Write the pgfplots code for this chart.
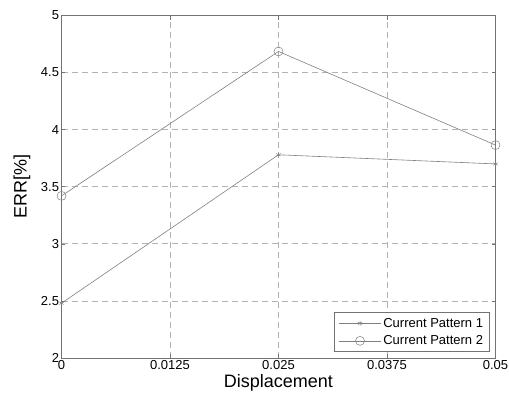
\documentclass[border=0pt]{standalone}
\usepackage{pgfplots}
\pgfplotsset{compat=1.18}
\usepackage{fontspec}
\setmainfont{Liberation Sans}
\definecolor{axgray}{gray}{0.45}
\definecolor{linegray}{gray}{0.5}
\definecolor{gridgray}{gray}{0.7}
\begin{document}
\begin{tikzpicture}
\path[use as bounding box] (0,0) rectangle (509bp,400bp);
\begin{axis}[
  at={(61.5bp,42bp)}, anchor=south west,
  scale only axis,
  width=434bp, height=342.5bp,
  xmin=0, xmax=0.05, ymin=2, ymax=5,
  xtick={0,0.0125,0.025,0.0375,0.05},
  xticklabels={0,0.0125,0.025,0.0375,0.05},
  ytick={2,2.5,3,3.5,4,4.5,5},
  yticklabels={2,2.5,3,3.5,4,4.5,5},
  scaled x ticks=false,
  /pgf/number format/assume math mode=true,
  ticklabel style={font=\fontsize{13bp}{15bp}\selectfont},
  xticklabel style={yshift=1bp},
  yticklabel style={xshift=1bp},
  tick align=inside,
  major tick length=4bp,
  tick style={axgray, line width=0.6bp},
  axis line style={axgray, line width=0.8bp},
  grid=major,
  major grid style={gridgray, dash pattern=on 6bp off 4bp, line width=0.7bp},
  xlabel={Displacement},
  ylabel={ERR[\%]},
  label style={font=\fontsize{18bp}{20bp}\selectfont},
  xlabel style={at={(axis description cs:0.5,-0.073)}, anchor=center},
  ylabel style={at={(axis description cs:-0.091,0.5)}, anchor=center},
  legend style={
    at={(axis description cs:0.986,0.0175)}, anchor=south east,
    draw=axgray, line width=0.8bp, fill=white,
    font=\fontsize{13bp}{15bp}\selectfont,
    inner xsep=4bp, inner ysep=3.5bp,
    row sep=3bp,
    cells={anchor=west},
  },
  legend image code/.code={
    \draw[#1, mark=none] (0bp,0bp) -- (42bp,0bp);
    \path[#1] plot coordinates {(21bp,0bp)};
  },
]
\addplot[linegray, line width=0.6bp, mark=asterisk, mark size=2.5bp, mark options={solid, line width=0.5bp}]
  coordinates {(0,2.48) (0.025,3.78) (0.05,3.70)};
\addlegendentry{Current Pattern 1}
\addplot[linegray, line width=0.6bp, mark=o, mark size=4.5bp, mark options={solid, line width=0.5bp}]
  coordinates {(0,3.42) (0.025,4.685) (0.05,3.865)};
\addlegendentry{Current Pattern 2}
\end{axis}
\end{tikzpicture}
\end{document}
